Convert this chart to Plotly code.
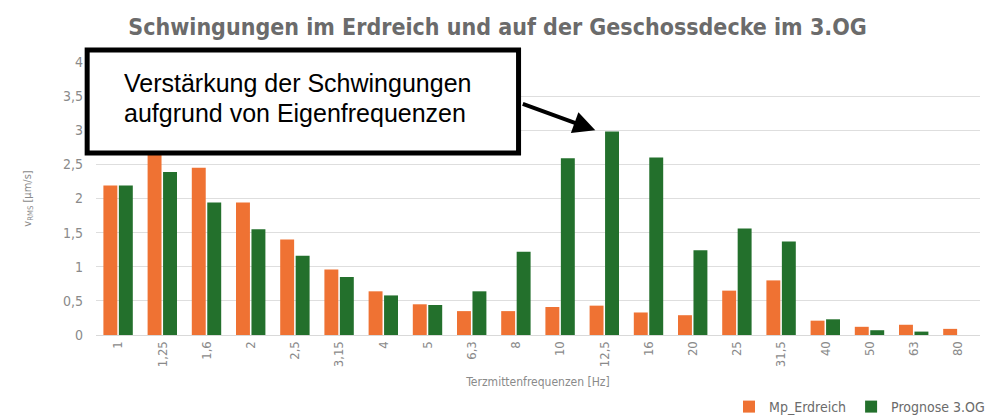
import plotly.graph_objects as go

# Terzmittenfrequenzen [Hz] -- labels as printed on the chart
frequencies = ["1", "1,25", "1,6", "2", "2,5", "3,15", "4", "5", "6,3", "8",
               "10", "12,5", "16", "20", "25", "31,5", "40", "50", "63", "80"]

# v_RMS [µm/s]
mp_erdreich = [2.19, 2.66, 2.45, 1.94, 1.40, 0.96, 0.64, 0.45, 0.35, 0.35,
               0.41, 0.43, 0.33, 0.29, 0.65, 0.80, 0.21, 0.12, 0.15, 0.09]
prognose_3og = [2.19, 2.39, 1.94, 1.55, 1.16, 0.85, 0.58, 0.44, 0.64, 1.22,
                2.59, 2.98, 2.60, 1.24, 1.56, 1.37, 0.23, 0.07, 0.05, 0.0]

y_ticks = [0, 0.5, 1, 1.5, 2, 2.5, 3, 3.5, 4]

callout_lines = ["Verstärkung der Schwingungen", "aufgrund von Eigenfrequenzen"]

ORANGE = "#EF7233"
GREEN = "#23702C"
GREY_TEXT = "#8a8a8a"

fig = go.Figure()

fig.add_trace(go.Bar(
    x=frequencies, y=mp_erdreich, name="Mp_Erdreich",
    marker=dict(color=ORANGE, line=dict(width=0)),
))
fig.add_trace(go.Bar(
    x=frequencies, y=prognose_3og, name="Prognose 3.OG",
    marker=dict(color=GREEN, line=dict(width=0)),
))

# callout box sits partly outside the plot area, so paper coords
fig.add_shape(
    type="rect", xref="paper", yref="paper",
    x0=-0.010, x1=0.478, y0=0.667, y1=1.044,
    line=dict(color="black", width=5), fillcolor="white", layer="above",
)
# two separate lines so the line spacing can match the original
for line_text, y_pos in zip(callout_lines, [0.923, 0.813]):
    fig.add_annotation(
        xref="paper", yref="paper", x=0.029, y=y_pos,
        xanchor="left", yanchor="middle", align="left", showarrow=False,
        text=line_text,
        font=dict(family="Liberation Sans, Arial", size=25, color="black"),
    )
# arrow pointing at the 12,5 Hz peak
fig.add_annotation(
    x="12,5", y=3.0, xshift=-9, text="", showarrow=True,
    arrowhead=2, arrowsize=1.1, arrowwidth=4, arrowcolor="black",
    ax=-74, ay=-27,
)

fig.update_layout(
    width=999, height=420,
    # page renders with a small offset, margins compensate for it
    margin=dict(l=88, r=27, t=54, b=93),
    paper_bgcolor="white", plot_bgcolor="white",
    separators=", ",
    barmode="group", bargap=0.30, bargroupgap=0.10,
    title=dict(
        text="<b>Schwingungen im Erdreich und auf der Geschossdecke im 3.OG</b>",
        x=0.49, xref="container", xanchor="center", y=0.955, yanchor="middle",
        font=dict(family="DejaVu Sans Condensed", size=23, color="#6b6b6b"),
    ),
    font=dict(family="DejaVu Sans Condensed", color=GREY_TEXT),
    legend=dict(
        orientation="h", xref="container", yref="container",
        x=0.983, xanchor="right", y=0.05, yanchor="middle",
        font=dict(size=14, color="#6b6b6b"), traceorder="normal",
        itemwidth=30,
    ),
    xaxis=dict(
        automargin=False,
        tickangle=-90, tickfont=dict(size=13, color=GREY_TEXT),
        title=dict(text="Terzmittenfrequenzen [Hz]", font=dict(size=12, color=GREY_TEXT), standoff=11),
        showline=True, linecolor="#d9d9d9", linewidth=1, ticks="",
    ),
    yaxis=dict(
        automargin=False,
        range=[0, 4.0], tickvals=y_ticks,
        ticklabelstandoff=12,
        tickfont=dict(size=14, color=GREY_TEXT),
        title=dict(text="v<sub>RMS</sub> [µm/s]", font=dict(size=11, color=GREY_TEXT), standoff=29),
        gridcolor="#dedede", gridwidth=1, zeroline=False,
    ),
)

fig.write_html("out.html")
